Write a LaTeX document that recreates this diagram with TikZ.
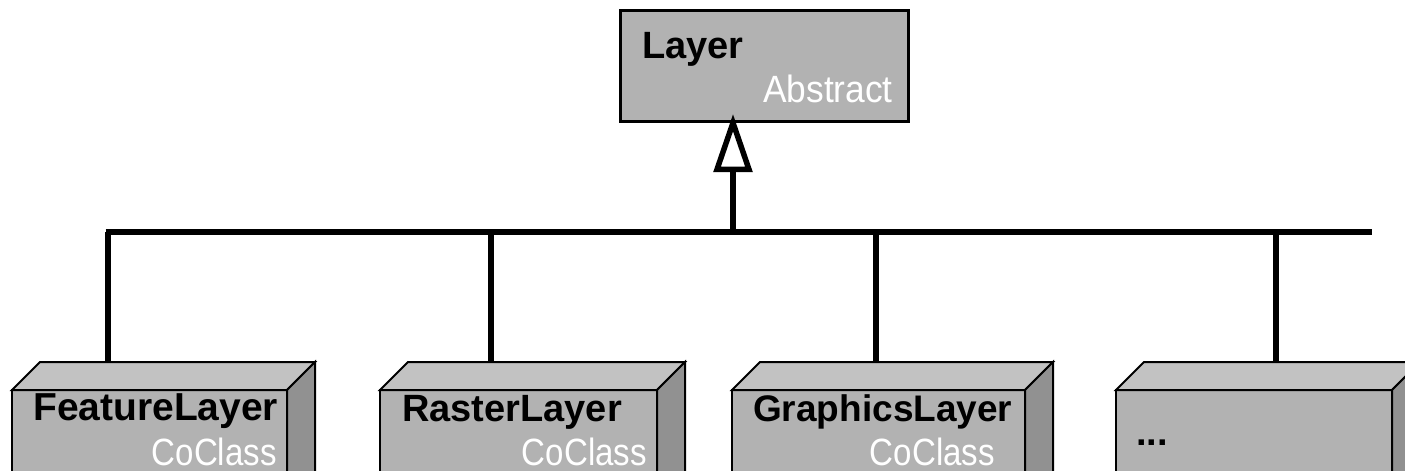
\documentclass[tikz,border=0pt]{standalone}
\usepackage{fontspec}
\setmainfont{Liberation Sans}
\newfontfamily\slimfont[FakeStretch=0.93]{Liberation Sans}
\newfontfamily\slimmerfont[FakeStretch=0.87]{Liberation Sans}
\usetikzlibrary{arrows.meta,calc}

\definecolor{frontgray}{gray}{0.70}
\definecolor{topgray}{gray}{0.76}
\definecolor{sidegray}{gray}{0.57}

\begin{document}
\begin{tikzpicture}[x=1pt,y=-1pt,
  frontface/.style={draw=black,line width=2pt,fill=frontgray,outer sep=0pt,
    inner sep=0pt,anchor=north west,minimum height=140pt},
  topface/.style={draw=black,line width=2pt,fill=topgray,line join=miter},
  sideface/.style={draw=black,line width=2pt,fill=sidegray,line join=miter},
  classbox/.style={draw=black,line width=3pt,fill=frontgray,outer sep=0pt,
    inner sep=0pt,minimum width=288pt,minimum height=111pt},
  namelbl/.style={inner sep=0pt,font=\fontsize{#1}{#1}\selectfont\bfseries,text=black},
  namelbl/.default=38,
  kindlbl/.style={inner sep=0pt,font=\fontsize{38}{38}\selectfont\slimfont,text=white},
  coclasslbl/.style={inner sep=0pt,font=\fontsize{38}{38}\selectfont\slimmerfont,text=white},
  link/.style={draw=black,line width=5.5pt},
]
\clip (0,0) rectangle (1405,471);
\useasboundingbox (0,0) rectangle (1405,471);

% abstract base class
\node[classbox] (layer) at (764,65.5) {};
\node[namelbl,anchor=base west] (layername) at (642,58) {Layer};
\node[kindlbl,anchor=base east] (layerkind) at (893,102) {Abstract};

% coclasses drawn as 3D blocks
\foreach \n/\x/\w in {1/12/275, 2/380/277, 3/732/293, 4/1116/276} {
  \node[frontface,minimum width=\w pt] (box\n) at (\x,390) {};
  \draw[topface] (box\n.north west) -- ++(28,-28) -- ++(\w,0)
    -- (box\n.north east) -- cycle;
  \draw[sideface] (box\n.north east) -- ++(28,-28) -- ++(0,140)
    -- ++(-28,28) -- cycle;
}

\node[namelbl=39,anchor=base west] (name1) at (33,420) {FeatureLayer};
\node[coclasslbl,anchor=base east] (kind1) at (277,465) {CoClass};
\node[namelbl=38,anchor=base west] (name2) at (402,421) {RasterLayer};
\node[coclasslbl,anchor=base east] (kind2) at (647,465) {CoClass};
\node[namelbl=37,anchor=base west] (name3) at (753,421) {GraphicsLayer};
\node[coclasslbl,anchor=base east] (kind3) at (995,465) {CoClass};
\node[namelbl=38,anchor=base west] (name4) at (1136,445) {...};

% inheritance bus
\coordinate (busL) at (105.5,232);
\coordinate (busR) at (1372,232);
\coordinate (hub) at (733,232);
\coordinate (apex) at (733,114);
\draw[link] (busL) -- (busR);
\draw[link,-{Triangle[fill=white,length=58pt,width=38pt]}] (hub) -- (apex);

\coordinate (s1) at (108,362);
\coordinate (s2) at (491,362);
\coordinate (s3) at (876,362);
\coordinate (s4) at (1276,362);
\foreach \n in {1,2,3,4} {
  \draw[link] (s\n |- busL) -- (s\n);
}
\end{tikzpicture}
\end{document}
